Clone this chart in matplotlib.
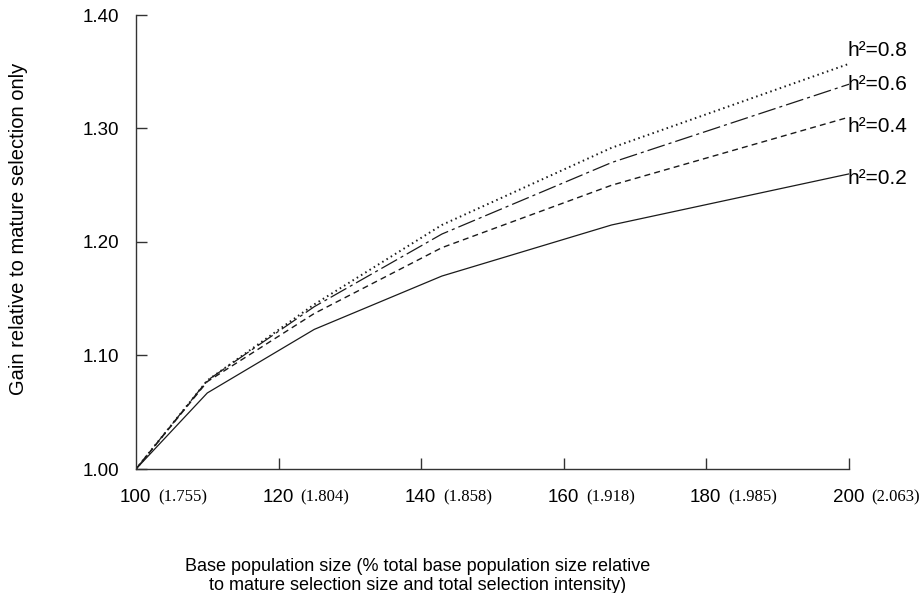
import matplotlib
matplotlib.use("Agg")
import matplotlib.pyplot as plt

# ---- data ----
base_pop = [100, 110, 125, 142.9, 166.7, 200]
gain_h02 = [1.000, 1.067, 1.123, 1.170, 1.215, 1.260]
gain_h04 = [1.000, 1.077, 1.137, 1.195, 1.250, 1.310]
gain_h06 = [1.000, 1.078, 1.143, 1.207, 1.270, 1.339]
gain_h08 = [1.000, 1.078, 1.145, 1.215, 1.283, 1.357]
series_labels = ["h²=0.2", "h²=0.4", "h²=0.6", "h²=0.8"]
x_ticks = [120, 140, 160, 180, 200]
x_tick_main = ["100", "120", "140", "160", "180", "200"]
x_tick_positions = [100, 120, 140, 160, 180, 200]
x_tick_intensity = ["(1.755)", "(1.804)", "(1.858)", "(1.918)", "(1.985)", "(2.063)"]
y_ticks = [1.00, 1.10, 1.20, 1.30, 1.40]
y_tick_labels = ["1.00", "1.10", "1.20", "1.30", "1.40"]

plt.rcParams['lines.scale_dashes'] = False
SANS = "Liberation Sans"
SERIF = "Liberation Serif"
INK = "#1a1a1a"

fig = plt.figure(figsize=(9.19, 5.93), dpi=100)
ax = fig.add_axes([136/919, 1-469/593, (849-136)/919, (469-15)/593])

series = [gain_h02, gain_h04, gain_h06, gain_h08]
styles = [
    dict(linestyle="-", lw=0.9),
    dict(linestyle=(0, (4.3, 3.0)), lw=1.0),
    dict(linestyle=(0, (13, 2.9, 2.2, 2.9)), lw=0.9),
    dict(linestyle=(0, (1.1, 2.5)), lw=1.4),
]
label_offsets_px = [-5, -9, 0, 13]
for ys, st, lab, off in zip(series, styles, series_labels, label_offsets_px):
    ax.plot(base_pop, ys, color=INK, **st)
    ax.annotate(lab, xy=(base_pop[-1], ys[-1]), xytext=(-1, off*0.72),
                textcoords="offset points", ha="left", va="center",
                fontsize=15, family=SANS, color="black", annotation_clip=False)

ax.set_xlim(100, 200)
ax.set_ylim(1.0, 1.4)
for s in ["top", "right"]:
    ax.spines[s].set_visible(False)
for s in ["left", "bottom"]:
    ax.spines[s].set_color("#333333")
    ax.spines[s].set_linewidth(1.0)

ax.set_xticks(x_ticks)
ax.set_xticklabels([""] * len(x_ticks))
ax.tick_params(axis="x", direction="in", length=8, width=1.0, color="#333333")
ax.set_yticks(y_ticks)
ax.set_yticklabels(y_tick_labels, fontsize=13.5, family=SANS)
ax.tick_params(axis="y", direction="in", length=8, width=1.0, color="#333333", pad=12)

trans = ax.get_xaxis_transform()
for xp, main, sub in zip(x_tick_positions, x_tick_main, x_tick_intensity):
    ax.annotate(main, xy=(xp, 0), xycoords=trans, xytext=(15*0.72, -28*0.72),
                textcoords="offset points", ha="right", va="center",
                fontsize=13.5, family=SANS, annotation_clip=False)
    ax.annotate(sub, xy=(xp, 0), xycoords=trans, xytext=(22*0.72, -28*0.72),
                textcoords="offset points", ha="left", va="center",
                fontsize=12, family=SERIF, annotation_clip=False)

fig.text(19/919, 1-229/593, "Gain relative to mature selection only", rotation=90,
         ha="center", va="center", fontsize=14.5, family=SANS)
fig.text(418/919, 1-576/593,
         "Base population size (% total base population size relative\n"
         "to mature selection size and total selection intensity)",
         ha="center", va="center", fontsize=13, family=SANS, linespacing=1.1)

fig.savefig("out.png", dpi=100)
